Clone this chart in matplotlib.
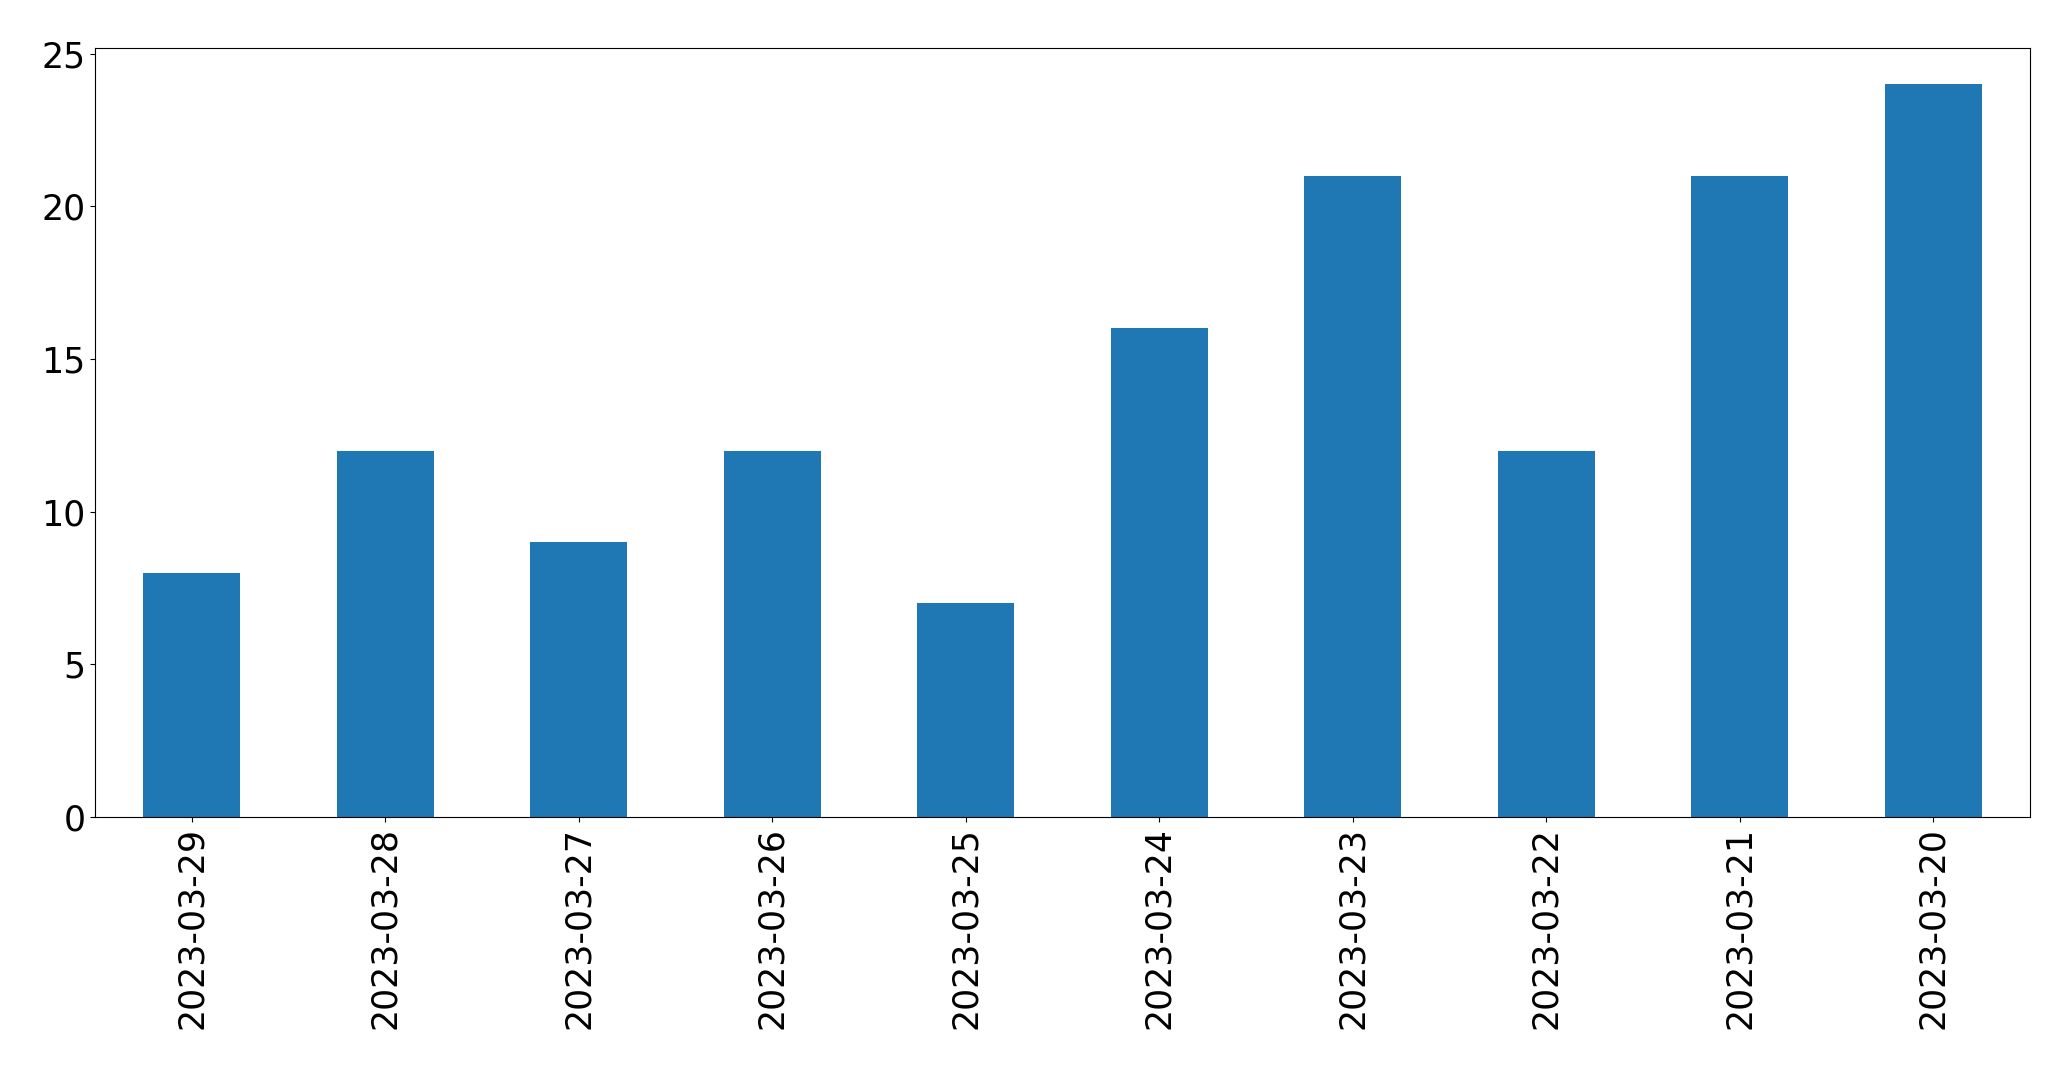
import matplotlib
matplotlib.use("Agg")
import matplotlib.pyplot as plt

dates = ["2023-03-29", "2023-03-28", "2023-03-27", "2023-03-26", "2023-03-25",
         "2023-03-24", "2023-03-23", "2023-03-22", "2023-03-21", "2023-03-20"]
counts = [8, 12, 9, 12, 7, 16, 21, 12, 21, 24]

fig = plt.figure(figsize=(20.71, 10.69), dpi=100)
ax = fig.add_axes([95/2071, 1 - 817/1069, (2030-95)/2071, (817-47.6)/1069])
x = range(len(dates))
ax.bar(x, counts, width=0.5, color="#1f77b4")
ax.set_xlim(-0.5, len(dates) - 0.5)
ax.set_ylim(0, 25.2)
ax.set_xticks(list(x))
ax.set_xticklabels(dates, rotation=90)
ax.tick_params(labelsize=25)
fig.savefig("out.png", dpi=100)
